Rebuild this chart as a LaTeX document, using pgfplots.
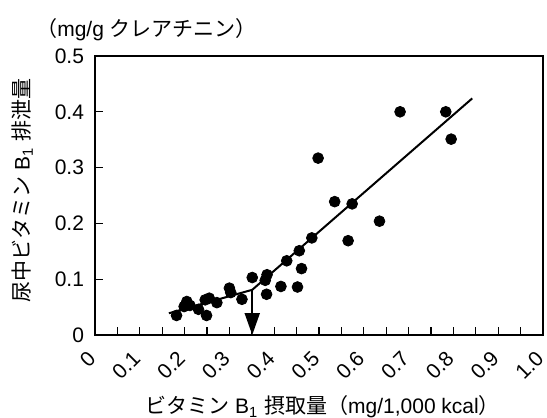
\documentclass[border=0pt]{standalone}
\usepackage{pgfplots}
\pgfplotsset{compat=1.18}
\usepackage{fontspec}
\setmainfont{Liberation Sans}
\newfontfamily\jp{Noto Sans CJK JP}
\usetikzlibrary{arrows.meta}

\begin{document}
\begin{tikzpicture}
\useasboundingbox (-47.5pt,-41.5pt) rectangle (226pt,167.5pt);
\begin{axis}[
    at={(0,0)}, anchor=south west,
    scale only axis, width=224pt, height=139.5pt,
    xmin=0, xmax=1, ymin=0, ymax=0.5,
    xtick={0,0.1,0.2,0.3,0.4,0.5,0.6,0.7,0.8,0.9,1.0},
    xticklabels={0,0.1,0.2,0.3,0.4,0.5,0.6,0.7,0.8,0.9,1.0},
    minor xtick={0.05,0.15,0.25,0.35,0.45,0.55,0.65,0.75,0.85,0.95},
    ytick={0,0.1,0.2,0.3,0.4,0.5},
    yticklabels={0,0.1,0.2,0.3,0.4,0.5},
    xtick pos=lower, ytick pos=left,
    tick align=inside,
    major tick length=4pt, minor tick length=4pt,
    tick style={black, line width=0.6pt},
    axis line style={line width=0.6pt},
    /pgf/number format/assume math mode=true,
    ticklabel style={font=\fontsize{10.5}{12}\selectfont},
    yticklabel style={anchor=east, inner sep=0pt, xshift=-5.3pt},
    xticklabel style={inner sep=0pt, xshift=-1.5pt, yshift=-9.8pt, rotate=45, anchor=east},
    xlabel={{\jp ビタミン} B\textsubscript{1} {\jp 摂取量（}mg/1,000 kcal{\jp ）}},
    xlabel style={font=\fontsize{10.5}{12}\selectfont, at={(axis description cs:0.508,-0.258)}, anchor=center},
    ylabel={{\jp 尿中ビタミン} B\textsubscript{1} {\jp 排泄量}},
    ylabel style={font=\fontsize{10.5}{12}\selectfont, at={(axis description cs:-0.162,0.518)}, anchor=center, rotate=0},
    clip=false,
]
  % measured points
  \addplot[only marks, mark=*, mark size=2.7pt, black] coordinates {
    (0.182,0.035) (0.199,0.051) (0.205,0.060) (0.212,0.053) (0.231,0.046)
    (0.246,0.063) (0.249,0.035) (0.255,0.066) (0.272,0.058) (0.300,0.084)
    (0.303,0.076) (0.328,0.064) (0.351,0.103) (0.380,0.098) (0.384,0.108)
    (0.383,0.073) (0.415,0.087) (0.428,0.133) (0.452,0.086) (0.456,0.151)
    (0.461,0.119) (0.484,0.174) (0.498,0.317) (0.535,0.239) (0.565,0.169)
    (0.574,0.235) (0.635,0.204) (0.681,0.400) (0.783,0.400) (0.795,0.351)
  };
  % segmented regression line
  \addplot[black, line width=1pt] coordinates {
    (0.165,0.039) (0.351,0.081) (0.842,0.424)
  };
  % breakpoint arrow
  \addplot[black, line width=1pt, -{Triangle[width=7.5pt,length=11pt]}] coordinates {
    (0.351,0.081) (0.351,0.0)
  };
  \node[anchor=west, font=\fontsize{10.5}{12}\selectfont, inner sep=0pt]
    at (rel axis cs:-0.132,1.093) {{\jp （}mg/g {\jp クレアチニン）}};
\end{axis}
\end{tikzpicture}
\end{document}
